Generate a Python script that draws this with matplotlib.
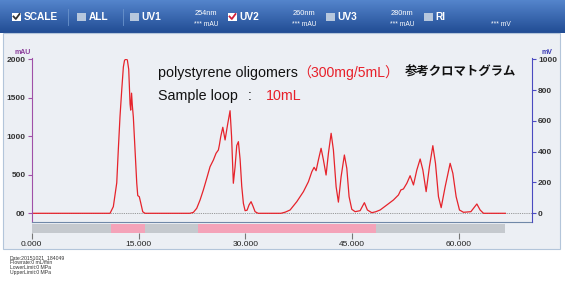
import numpy as np
import matplotlib.pyplot as plt
from matplotlib.patches import Rectangle

plt.rcParams['font.family'] = ['Liberation Sans', 'Noto Sans CJK JP', 'DejaVu Sans']

# --- chromatogram trace (UV2, mAU) ---
times = [0.0, 11.0, 11.46, 11.94, 12.16, 12.40, 12.64, 12.87, 13.03, 13.24, 13.43, 13.62,
         13.81, 13.90, 14.02, 14.13, 14.27, 14.51, 14.75, 14.89, 15.11, 15.31, 15.59, 15.91,
         22.2, 22.70, 23.17, 23.64, 24.10, 24.58, 25.04, 25.51, 25.88, 26.21, 26.35, 26.54,
         26.83, 27.15, 27.50, 27.85, 28.06, 28.31, 28.55, 28.79, 29.02, 29.26, 29.49, 29.72,
         29.96, 30.24, 30.52, 30.80, 31.08, 31.36, 31.78, 35.0, 35.6, 36.28, 37.22, 38.15,
         38.85, 39.33, 39.65, 39.93, 40.25, 40.63, 40.96, 41.33, 41.66, 42.04, 42.36, 42.74,
         43.06, 43.44, 43.90, 44.24, 44.56, 44.94, 45.41, 46.11, 46.71, 47.13, 47.75, 48.3,
         48.92, 49.86, 50.79, 51.49, 51.83, 52.19, 52.67, 53.13, 53.60, 54.07, 54.54, 54.92,
         55.38, 55.84, 56.32, 56.69, 57.11, 57.49, 58.05, 58.75, 59.13, 59.59, 60.06, 60.62,
         61.66, 62.50, 62.96, 63.43, 66.5]
mau = [0, 0, 86, 395, 825, 1260, 1600, 1900, 1985, 2005, 1990, 1870,
       1420, 1340, 1560, 1400, 1250, 820, 390, 230, 215, 135, 20, 0,
       0, 12, 65, 173, 303, 455, 605, 692, 779, 822, 887, 995,
       1117, 952, 1150, 1332, 1000, 390, 600, 880, 930, 700, 350, 130,
       34, 40, 110, 151, 90, 21, 0, 0, 15, 43, 151, 281,
       410, 540, 597, 553, 692, 844, 692, 497, 779, 1039, 822, 345,
       145, 475, 757, 584, 216, 52, 21, 34, 138, 43, 8, 20,
       43, 108, 173, 238, 303, 316, 390, 488, 368, 562, 705, 562,
       281, 605, 878, 649, 216, 73, 345, 649, 519, 216, 43, 13,
       21, 121, 43, 0, 0]

# fraction collector bar: (start, length, colour)
bar_start = [0.0, 11.2, 15.9, 23.4, 48.3]
bar_len = [11.2, 4.7, 7.5, 24.9, 18.2]
bar_col = ['#c5c9ce', '#f4a3b9', '#c5c9ce', '#f4a3b9', '#c5c9ce']

left_ticks = [0, 500, 1000, 1500, 2000]
left_labels = ['00', '500', '1000', '1500', '2000']
right_ticks = [0, 200, 400, 600, 800, 1000]
x_ticks = [0, 15, 30, 45, 60]
x_labels = ['0.000', '15.000', '30.000', '45.000', '60.000']

info_lines = ['Date:20151021_184049', 'Flowrate:0 mL/min', 'LowerLimit:0 MPa', 'UpperLimit:0 MPa']

W, H = 565, 284
def box(l, t, r, b):
    return [l / W, 1 - b / H, (r - l) / W, (b - t) / H]

fig = plt.figure(figsize=(5.65, 2.84), dpi=100)

# background layer in pixel coordinates
bg = fig.add_axes([0, 0, 1, 1])
bg.axis('off')
grad = np.linspace(0, 1, 60)[:, None]
top, bot = np.array([0.33, 0.52, 0.80]), np.array([0.13, 0.30, 0.58])
img = top + (bot - top) * grad[:, :, None]
bg.imshow(np.repeat(img, 2, axis=1), extent=(0, W, 33, 0), aspect='auto')
bg.add_patch(Rectangle((3, 33), 557, 216, fc='#eceff4', ec='#b3c5da', lw=0.8))
bg.set_xlim(0, W)
bg.set_ylim(H, 0)

# header: checkboxes and labels
boxes = [(12, 'SCALE', 'white', '#333333'), (77, 'ALL', '#b6c7dd', None),
         (130, 'UV1', '#b6c7dd', None), (228, 'UV2', 'white', '#d0203c'),
         (326, 'UV3', '#b6c7dd', None), (424, 'RI', '#b6c7dd', None)]
for x0, lab, fc, chk in boxes:
    bg.add_patch(Rectangle((x0, 12.5), 9, 8, fc=fc, ec='none'))
    if chk:
        bg.plot([x0 + 1.5, x0 + 3.8, x0 + 7.5], [16.5, 19, 14], color=chk, lw=1.3)
    bg.text(x0 + 11.5, 16.5, lab, color='white', fontsize=7.3, weight='bold', va='center')
for xs in [68, 123]:
    bg.plot([xs, xs], [9, 25], color='#6a93cb', lw=0.6)
for xc, nm in [(206, '254nm'), (304, '260nm'), (402, '280nm')]:
    bg.text(xc, 13.5, nm, color='white', fontsize=5.3, ha='center', va='center')
    bg.text(xc, 24.5, '*** mAU', color='white', fontsize=4.8, ha='center', va='center')
bg.text(501, 24.5, '*** mV', color='white', fontsize=4.8, ha='center', va='center')

# axis unit labels
bg.text(23, 52.5, 'mAU', color='#8a3c9a', fontsize=5, weight='bold', ha='center', va='center')
bg.text(547, 52.5, 'mV', color='#3c3cb4', fontsize=5, weight='bold', ha='center', va='center')

# annotations
bg.text(158, 73, 'polystyrene oligomers', fontsize=10.3, color='#111111', va='center')
bg.text(297, 73, '（300mg/5mL）', fontsize=10.1, color='#e8202a', va='center')
bg.text(405, 72, '参考クロマトグラム', fontsize=8.9, weight='bold', color='#111111', va='center',
        family=['Noto Sans CJK JP'])
bg.text(158, 96, 'Sample loop', fontsize=10.3, color='#111111', va='center')
bg.text(248, 96, ':', fontsize=10.3, color='#111111', va='center')
bg.text(266, 96, '10mL', fontsize=10.3, color='#e8202a', va='center')

# run info (tiny, tightly stacked)
for i, line in enumerate(info_lines):
    bg.text(10, 257.5 + 5 * i, line, fontsize=3.7, color='#333333', va='center')

# main chromatogram axes
ax = fig.add_axes(box(31.7, 58.5, 531.7, 222))
ax.set_facecolor('none')
ax.axhline(0, color='#7a7a7a', lw=0.6, ls=(0, (1, 1.2)), zorder=1)
ax.plot(times, mau, color='#e6232b', lw=0.9, zorder=2)
ax.set_xlim(0, 70.2)
ax.set_ylim(-113, 2010)
ax.set_xticks([])
ax.set_yticks(left_ticks)
ax.set_yticklabels(left_labels)
ax.tick_params(axis='y', color='#a050a8', labelcolor='#333333', length=3, width=0.8,
               labelsize=6, pad=1.5)
for t in ax.get_yticklabels():
    t.set_fontweight('bold')
ax.spines['top'].set_visible(False)
ax.spines['right'].set_visible(False)
ax.spines['left'].set_color('#a050a8')
ax.spines['bottom'].set_color('#7088a8')
ax.spines['bottom'].set_linewidth(0.8)

ax2 = ax.twinx()
ax2.set_ylim(-56.5, 1005)
ax2.set_yticks(right_ticks)
ax2.tick_params(axis='y', color='#4a4ac0', labelcolor='#333333', length=3, width=0.8,
                labelsize=6, pad=1.5)
for t in ax2.get_yticklabels():
    t.set_fontweight('bold')
for s in ['top', 'left', 'bottom']:
    ax2.spines[s].set_visible(False)
ax2.spines['right'].set_color('#4a4ac0')

# fraction bar with the time axis under it
bax = fig.add_axes(box(31.7, 224, 531.7, 233))
bax.set_facecolor('none')
bax.broken_barh(list(zip(bar_start, bar_len)), (0, 1), facecolors=bar_col)
bax.set_xlim(0, 70.2)
bax.set_ylim(0, 1)
bax.set_yticks([])
bax.set_xticks(x_ticks)
bax.set_xticklabels(x_labels)
bax.tick_params(axis='x', length=4, color='#777777', labelcolor='#222222', labelsize=6, pad=1.5)
for s in bax.spines.values():
    s.set_visible(False)

plt.savefig('out.png', dpi=100)
